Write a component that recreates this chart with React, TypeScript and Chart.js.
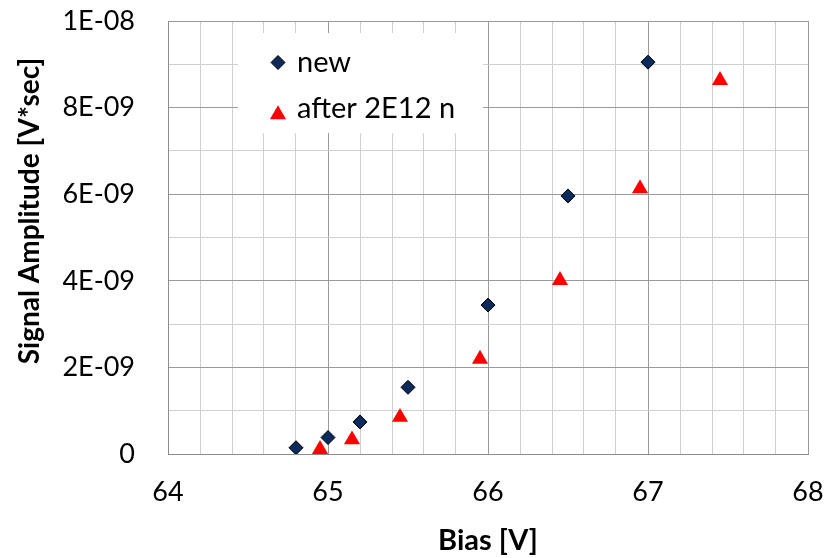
import React, { useEffect, useRef } from "react";
import { Chart, registerables } from "chart.js";

Chart.register(...registerables);

const biasNew = [64.8, 65.0, 65.2, 65.5, 66.0, 66.5, 67.0];
const ampNew = [1.45e-10, 3.8e-10, 7.4e-10, 1.54e-9, 3.44e-9, 5.96e-9, 9.05e-9];
const biasAfter = [64.95, 65.15, 65.45, 65.95, 66.45, 66.95, 67.45];
const ampAfter = [1.1e-10, 3.3e-10, 8.5e-10, 2.19e-9, 4.01e-9, 6.13e-9, 8.63e-9];

const seriesLabels = ["new", "after 2E12 n"];
const xTitle = "Bias [V]";
const yTitle = "Signal Amplitude [V*sec]";

const FONT = "Lato";
const NAVY = "#0c2a5b";
const RED = "#ff0000";
const MAJOR = "#9a9a9a";
const MINOR = "#cfcfcf";

function fmtY(v: number): string {
  const n = Math.round(v / 1e-9);
  if (n % 2 !== 0) return "";
  if (n === 0) return "0";
  const s = (n * 1e-9).toExponential(0);
  const [m, e] = s.split("e");
  const neg = e.startsWith("-");
  const digits = e.replace(/[-+]/, "").padStart(2, "0");
  return `${m}E${neg ? "-" : "+"}${digits}`;
}

function drawDiamond(ctx: CanvasRenderingContext2D, x: number, y: number, r: number) {
  ctx.beginPath();
  ctx.moveTo(x, y - r);
  ctx.lineTo(x + r, y);
  ctx.lineTo(x, y + r);
  ctx.lineTo(x - r, y);
  ctx.closePath();
  ctx.fillStyle = NAVY;
  ctx.fill();
  ctx.strokeStyle = "#000";
  ctx.lineWidth = 1;
  ctx.stroke();
}

function drawTriangle(ctx: CanvasRenderingContext2D, x: number, y: number, r: number) {
  const h = r * Math.sin(Math.PI / 3);
  ctx.beginPath();
  ctx.moveTo(x, y - r);
  ctx.lineTo(x + h, y + r / 2);
  ctx.lineTo(x - h, y + r / 2);
  ctx.closePath();
  ctx.fillStyle = RED;
  ctx.fill();
}

const overlayPlugin = {
  id: "overlay",
  afterDatasetsDraw(chart: any) {
    const { ctx, chartArea } = chart;
    const L = chartArea.left;
    const T = chartArea.top;
    ctx.save();
    // legend box
    ctx.fillStyle = "#ffffff";
    ctx.fillRect(L + 70, T + 12, 245, 100);
    drawDiamond(ctx, L + 110, T + 41.5, 7);
    drawTriangle(ctx, L + 110, T + 93.5, 9.3);
    ctx.fillStyle = "#000";
    ctx.font = `29px ${FONT}`;
    ctx.textBaseline = "alphabetic";
    ctx.textAlign = "left";
    ctx.fillText(seriesLabels[0], L + 129, T + 51);
    ctx.fillText(seriesLabels[1], L + 129, T + 97);
    // y title
    ctx.translate(30, 211);
    ctx.rotate(-Math.PI / 2);
    ctx.font = `bold 28px ${FONT}`;
    ctx.textAlign = "center";
    ctx.textBaseline = "middle";
    ctx.fillText(yTitle, 0, 0);
    ctx.restore();
  },
};

export default function App() {
  const ref = useRef<HTMLCanvasElement>(null);
  useEffect(() => {
    if (!ref.current) return;
    const chart = new Chart(ref.current, {
      type: "scatter",
      data: {
        datasets: [
          {
            label: seriesLabels[0],
            data: biasNew.map((x, i) => ({ x, y: ampNew[i] })),
            pointStyle: "rectRot",
            pointRadius: 7,
            backgroundColor: NAVY,
            borderColor: "#000",
            borderWidth: 1,
          },
          {
            label: seriesLabels[1],
            data: biasAfter.map((x, i) => ({ x, y: ampAfter[i] })),
            pointStyle: "triangle",
            pointRadius: 9.3,
            backgroundColor: RED,
            borderColor: RED,
            borderWidth: 0,
          },
        ],
      },
      options: {
        animation: false,
        responsive: false,
        maintainAspectRatio: false,
        layout: { padding: { left: 0, top: 21, right: 18, bottom: 0 } },
        plugins: { legend: { display: false }, tooltip: { enabled: false } },
        scales: {
          x: {
            type: "linear",
            min: 64,
            max: 68,
            afterFit: (s: any) => {
              s.height = 104;
            },
            ticks: {
              stepSize: 0.2,
              autoSkip: false,
              maxRotation: 0,
              padding: 0,
              color: "#000",
              font: { family: FONT, size: 27 },
              callback: (v: any) => {
                const n = Math.round(Number(v) * 5);
                return n % 5 === 0 ? String(n / 5) : "";
              },
            },
            grid: {
              drawTicks: true,
              tickLength: 22,
              tickColor: "rgba(0,0,0,0)",
              color: (c: any) => (Math.round(c.tick.value * 5) % 5 === 0 ? MAJOR : MINOR),
              lineWidth: 1,
            },
            border: { color: "#8c8c8c", width: 1 },
            title: {
              display: true,
              text: xTitle,
              color: "#000",
              font: { family: FONT, size: 29, weight: "bold" },
              padding: { top: 2, bottom: 0 },
            },
          },
          y: {
            type: "linear",
            min: 0,
            max: 1e-8,
            afterFit: (s: any) => {
              s.width = 168;
            },
            ticks: {
              stepSize: 1e-9,
              autoSkip: false,
              padding: 0,
              color: "#000",
              font: { family: FONT, size: 27 },
              callback: (v: any) => fmtY(Number(v)),
            },
            grid: {
              drawTicks: true,
              tickLength: 33,
              tickColor: "rgba(0,0,0,0)",
              color: (c: any) => (Math.round(c.tick.value / 1e-9) % 2 === 0 ? MAJOR : MINOR),
              lineWidth: 1,
            },
            border: { color: "#8c8c8c", width: 1 },
          },
        },
      },
      plugins: [overlayPlugin],
    } as any);
    return () => chart.destroy();
  }, []);
  return (
    <div style={{ position: "fixed", left: 0, top: 0, width: 826, height: 558, background: "#fff" }}>
      <canvas ref={ref} width={826} height={558} style={{ width: 826, height: 558 }} />
    </div>
  );
}
